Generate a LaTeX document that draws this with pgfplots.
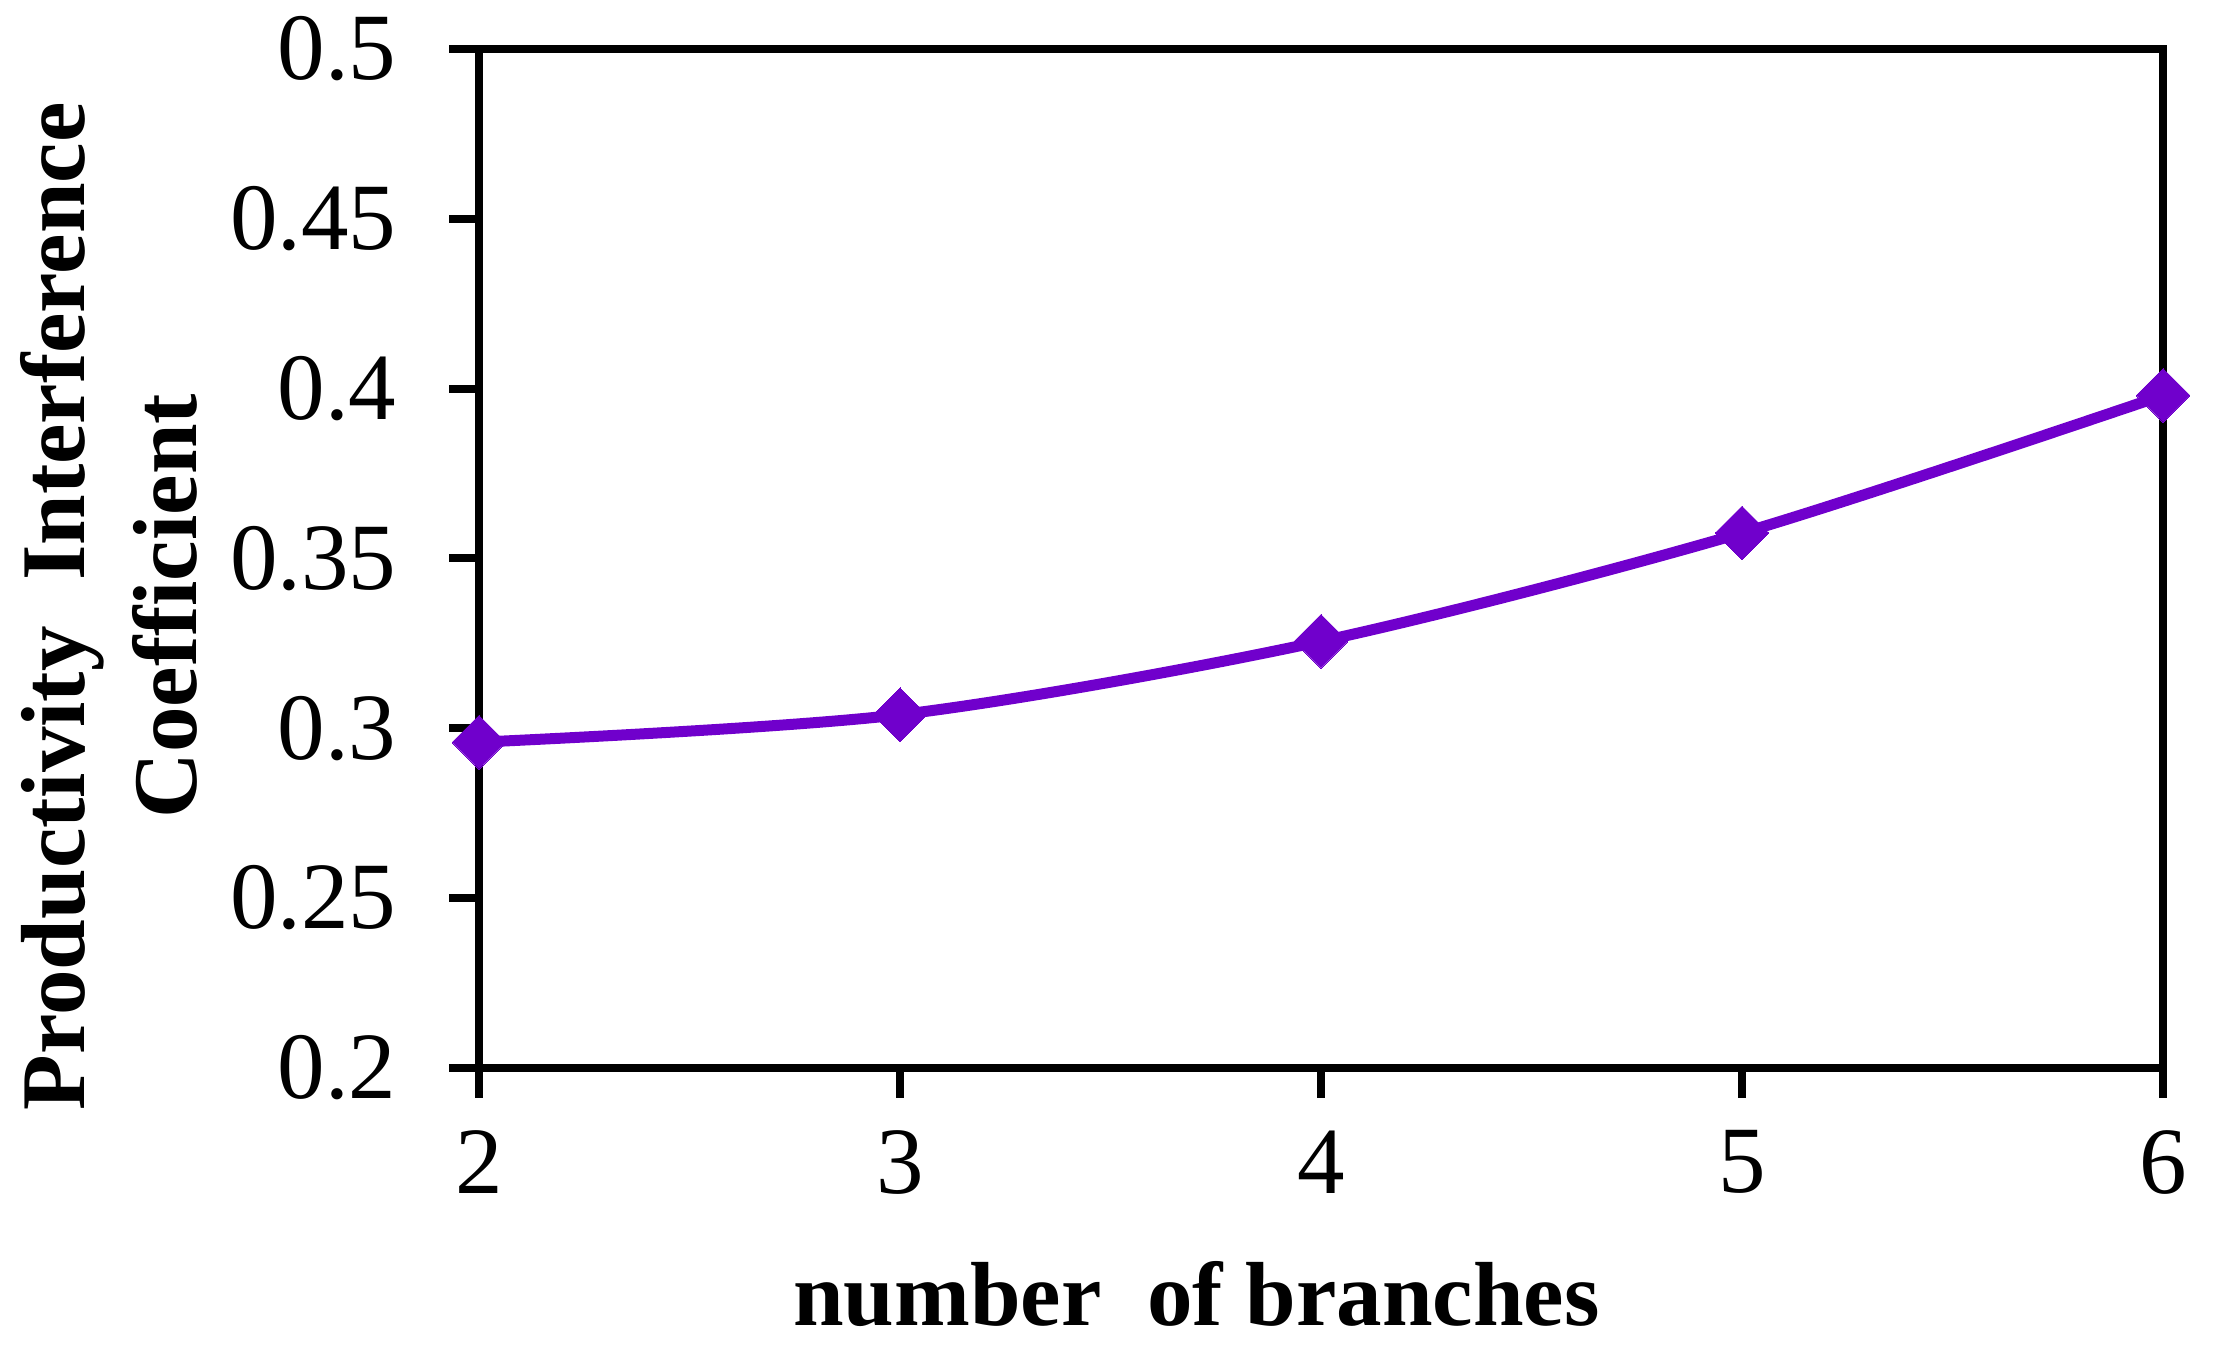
\documentclass[border=0pt]{standalone}
\usepackage{fontspec}
\setmainfont{Liberation Serif}
\usepackage{pgfplots}
\pgfplotsset{compat=1.18}
\definecolor{curve}{HTML}{7000CC}

\begin{document}
\begin{tikzpicture}
  \begin{axis}[
      name=ax,
      scale only axis,
      width=336.8pt, height=203.8pt,
      xmin=2, xmax=6, ymin=0.2, ymax=0.5,
      xtick={2,3,4,5,6},
      ytick={0.2,0.25,0.3,0.35,0.4,0.45,0.5},
      yticklabel style={/pgf/number format/fixed, /pgf/number format/precision=2},
      /pgf/number format/assume math mode=true,
      tick align=outside, tick pos=left,
      major tick length=6pt,
      axis line style={line width=1.6pt},
      every tick/.style={line width=1.6pt, black},
      tick label style={font=\fontsize{19}{22}\selectfont},
      xticklabel style={yshift=-3pt},
      yticklabel style={xshift=-7pt},
      label style={font=\bfseries\fontsize{18.2}{22.5}\selectfont},
      xlabel={number~~of branches},
      xlabel style={at={(axis description cs:0.5,0)}, anchor=center, xshift=-24.9pt, yshift=-45.2pt},
      ylabel={Productivity~~Interference\\Coefficient},
      ylabel style={align=center, at={(axis description cs:-0.2197,0.453)}, anchor=center, rotate=0},
      clip=false,
    ]
    \addplot[color=curve, line width=2.2pt, smooth, tension=0.5,
             mark=square*, mark size=3.8pt, mark options={rotate=45, fill=curve, line width=0pt}]
      coordinates {(2,0.2959)(3,0.3040)(4,0.3256)(5,0.3575)(6,0.3980)};
  \end{axis}
  \path (ax.south west) ++(-95.8pt,-56.8pt) coordinate (bl);
  \path (ax.north east) ++(10.2pt,9.4pt) coordinate (tr);
  \path (bl) rectangle (tr);
\end{tikzpicture}
\end{document}
